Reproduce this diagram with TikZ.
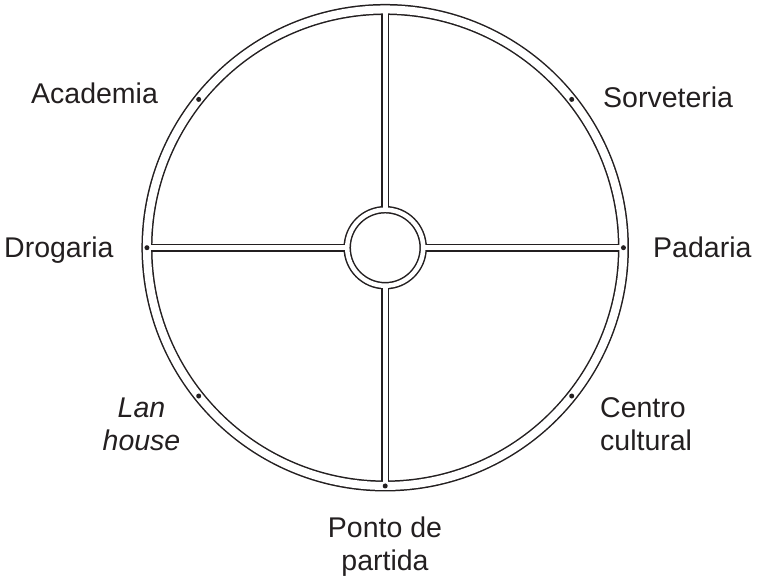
\documentclass[tikz,border=0pt]{standalone}
\usepackage{fontspec}
\setmainfont{Liberation Sans}
\definecolor{ink}{HTML}{231F20}
\begin{document}
\begin{tikzpicture}[x=1pt,y=-1pt,
  lbl/.style={inner sep=0pt,text=ink,font=\fontsize{28.5}{33}\selectfont},
  roadblack/.style={draw=ink,line width=#1},
  roadwhite/.style={draw=white,line width=#1},
  spot/.style={fill=ink,circle,inner sep=0pt,minimum size=5pt}]
\useasboundingbox (0,0) rectangle (759,578);
\coordinate (c) at (385.2,247.7);
\coordinate (T) at (385.2,9.45);
\coordinate (B) at (385.2,485.95);
\coordinate (L) at (146.95,247.7);
\coordinate (R) at (623.45,247.7);
\coordinate (t) at (385.2,209.7);
\coordinate (b) at (385.2,285.7);
\coordinate (l) at (347.2,247.7);
\coordinate (r) at (423.2,247.7);
% black underlay
\draw[roadblack=11pt] (c) circle[radius=238.25];
\draw[roadblack=7.5pt] (c) circle[radius=38];
\draw[roadblack=8.1pt] (t) -- (T) (b) -- (B) (l) -- (L) (r) -- (R);
% white inside
\draw[roadwhite=8pt] (c) circle[radius=238.25];
\draw[roadwhite=4.5pt] (c) circle[radius=38];
\draw[roadwhite=5.1pt] (t) -- (T) (b) -- (B) (l) -- (L) (r) -- (R);
% dots
\node[spot] (dAc) at (198.7,99.4) {};
\node[spot] (dSo) at (571.7,99.4) {};
\node[spot] (dLa) at (198.7,396.0) {};
\node[spot] (dCe) at (571.7,396.0) {};
\node[spot] (dDr) at (L) {};
\node[spot] (dPa) at (R) {};
\node[spot] (dPo) at (B) {};
% labels
\node[lbl,anchor=base west] (Ac) at (31,103) {Academia};
\node[lbl,anchor=base west] (So) at (603,107) {Sorveteria};
\node[lbl,anchor=base west] (Dr) at (4,257) {Drogaria};
\node[lbl,anchor=base west] (Pa) at (653,257) {Padaria};
\node[lbl,anchor=base,align=center,font=\fontsize{28.5}{33}\selectfont\itshape] (La) at (141.5,450) {Lan\\house};
\node[lbl,anchor=base west,align=left] (Ce) at (600,450) {Centro\\cultural};
\node[lbl,anchor=base,align=center] (Po) at (385,570) {Ponto de\\partida};
\end{tikzpicture}
\end{document}
